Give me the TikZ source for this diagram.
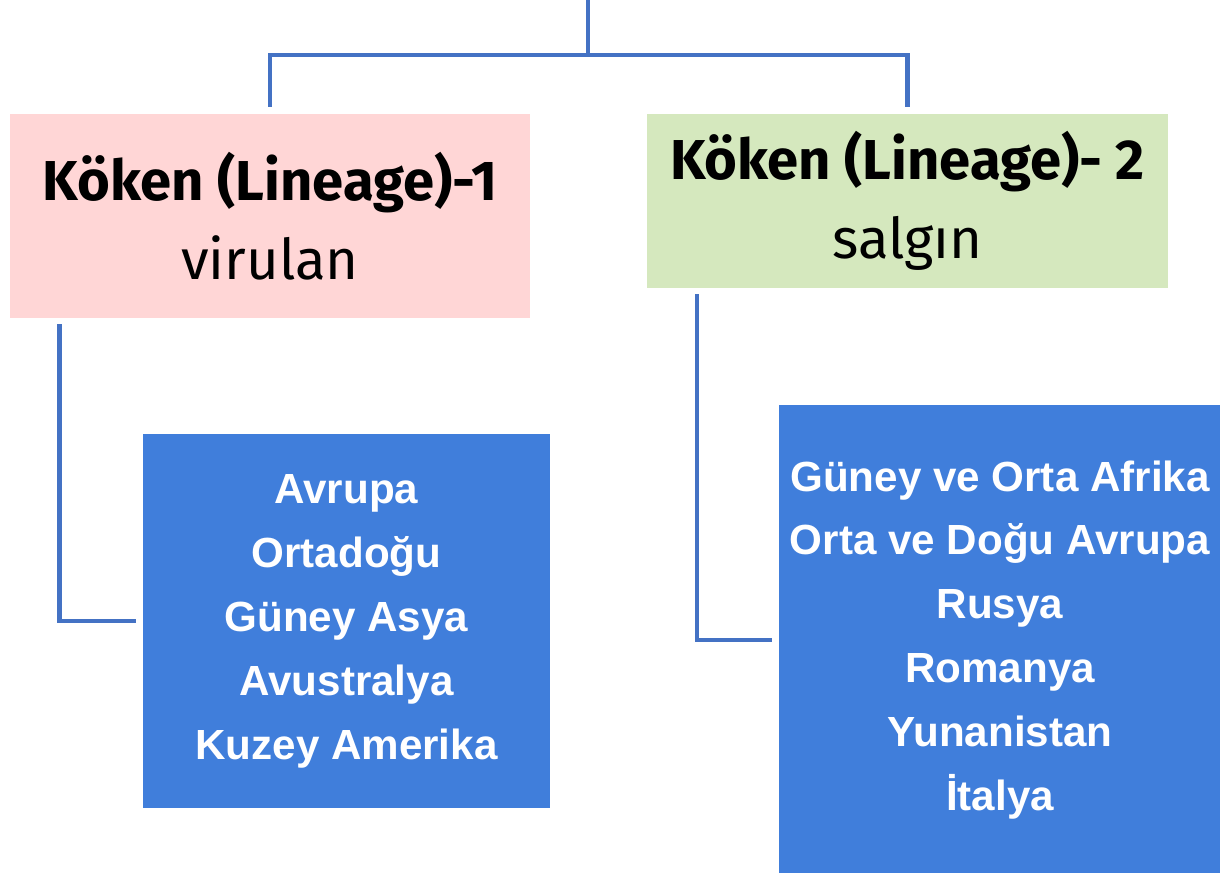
\documentclass[tikz,border=0pt]{standalone}
\usepackage{fontspec}
\setmainfont{Liberation Sans}
\newfontfamily\headfont{Fira Sans}
\definecolor{linkblue}{RGB}{68,114,196}
\definecolor{boxblue}{RGB}{64,126,219}
\definecolor{pinkfill}{RGB}{255,214,214}
\definecolor{greenfill}{RGB}{213,232,190}
\tikzset{
  conn/.style={draw=linkblue, line width=2.5pt},
  lineage/.style={inner sep=0pt, align=center, font=\headfont\fontsize{32}{45}\selectfont},
  region/.style={fill=boxblue, text=white, inner sep=0pt, align=center, font=\bfseries\fontsize{24}{36.4}\selectfont},
}
\begin{document}
\begin{tikzpicture}[x=0.02cm, y=-0.02cm]
\useasboundingbox (0,0) rectangle (1220,872);
\node[lineage, fill=pinkfill, minimum width=10.4cm, minimum height=4.08cm] (k1) at (270,216) {\textbf{Köken (Lineage)-1}\\virulan};
\node[lineage, fill=greenfill, minimum width=10.42cm, minimum height=3.48cm] (k2) at (907.5,201) {\textbf{Köken (Lineage)- 2}\\salgın};
\node[region, minimum width=8.14cm, minimum height=7.48cm] (r1) at (346.5,621) {Avrupa\\Ortadoğu\\Güney Asya\\Avustralya\\Kuzey Amerika};
\node[region, minimum width=8.84cm, minimum height=9.4cm] (r2) at (1000,640) {Güney ve Orta Afrika\\Orta ve Doğu Avrupa\\Rusya\\Romanya\\Yunanistan\\İtalya};
\coordinate (top) at (588,0);
\draw[conn] (top) -- (top |- 0,55);
\draw[conn, shorten <=0.14cm, shorten >=0.14cm] (k1.north) |- (top |- 0,55) -| (k2.north);
\foreach \k/\r in {k1/r1, k2/r2}
    \draw[conn, shorten <=0.12cm, shorten >=0.13cm] ([xshift=1cm]\k.south west) |- (\r.west);
\end{tikzpicture}
\end{document}
